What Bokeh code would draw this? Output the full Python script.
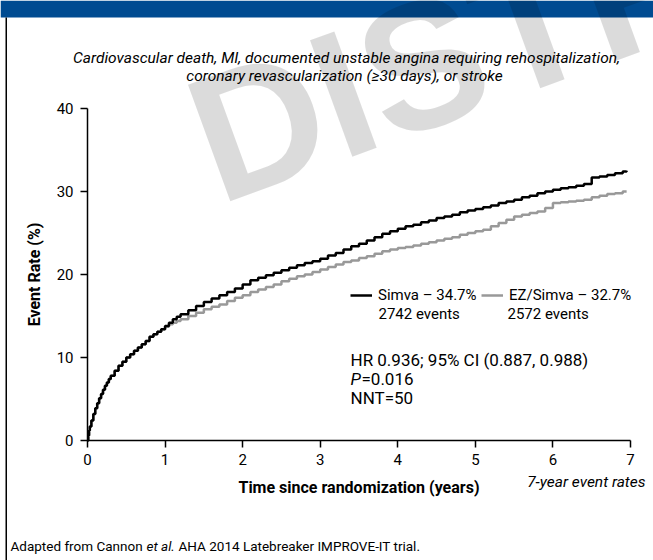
from bokeh.plotting import figure
from bokeh.models import Range1d, Label, Legend, LegendItem, FixedTicker, BoxAnnotation
from bokeh.embed import file_html
from bokeh.resources import INLINE

# ---------------- data ----------------
years = [0, 0.01, 0.02, 0.03, 0.05, 0.075, 0.1, 0.125, 0.15, 0.175, 0.2, 0.225,
         0.25, 0.275, 0.3, 0.35, 0.4, 0.45, 0.5, 0.55,
         0.6, 0.65, 0.7, 0.75, 0.8, 0.85, 0.9, 0.95, 1.0, 1.05, 1.1, 1.15,
         1.2, 1.3, 1.4, 1.5, 1.6, 1.7, 1.8, 1.9,
         2.0, 2.1, 2.2, 2.3, 2.4, 2.5, 2.6, 2.7, 2.8, 2.9,
         3.0, 3.1, 3.2, 3.3, 3.4, 3.5, 3.6, 3.7, 3.8, 3.9,
         4.0, 4.1, 4.2, 4.3, 4.4, 4.5, 4.6, 4.7, 4.8, 4.9,
         5.0, 5.1, 5.2, 5.3, 5.4, 5.5, 5.6, 5.7, 5.8, 5.9,
         6.0, 6.1, 6.2, 6.3, 6.4, 6.5, 6.6, 6.7, 6.8, 6.9, 6.95]

simva = [0, 0.6, 1.2, 1.7, 2.4, 3.2, 3.9, 4.5, 5.1, 5.6, 6.1, 6.6,
         7.0, 7.4, 7.8, 8.4, 9.0, 9.5, 10.0, 10.4,
         10.8, 11.2, 11.6, 12.0, 12.5, 12.8, 13.1, 13.4, 13.8, 14.2, 14.6, 14.9,
         15.2, 15.7, 16.2, 16.7, 17.1, 17.5, 17.9, 18.3,
         18.8, 19.3, 19.6, 19.9, 20.2, 20.5, 20.8, 21.1, 21.4, 21.6,
         21.9, 22.3, 22.6, 23.0, 23.4, 23.7, 24.1, 24.5, 24.9, 25.2,
         25.5, 25.8, 26.0, 26.3, 26.5, 26.8, 27.0, 27.2, 27.5, 27.7,
         27.9, 28.1, 28.3, 28.6, 28.8, 29.0, 29.3, 29.5, 29.8, 30.0,
         30.2, 30.4, 30.5, 30.7, 30.9, 31.7, 31.8, 32.0, 32.2, 32.4, 32.5]

ezsimva = [0, 0.6, 1.2, 1.7, 2.4, 3.2, 3.9, 4.5, 5.1, 5.6, 6.1, 6.6,
           7.0, 7.4, 7.8, 8.4, 9.0, 9.5, 10.0, 10.4,
           10.8, 11.2, 11.6, 12.0, 12.5, 12.8, 13.1, 13.4, 13.7, 14.0, 14.2, 14.4,
           14.6, 15.0, 15.4, 15.8, 16.1, 16.4, 16.8, 17.2,
           17.5, 17.9, 18.2, 18.5, 18.8, 19.2, 19.5, 19.8, 20.0, 20.3,
           20.6, 20.9, 21.2, 21.5, 21.7, 22.0, 22.2, 22.5, 22.8, 23.0,
           23.2, 23.3, 23.5, 23.7, 23.9, 24.1, 24.3, 24.5, 24.8, 25.0,
           25.2, 25.4, 25.8, 26.2, 26.6, 27.0, 27.2, 27.4, 27.6, 28.0,
           28.6, 28.7, 28.8, 28.9, 29.0, 29.3, 29.5, 29.7, 29.8, 30.0, 30.0]

x_ticks = [0, 1, 2, 3, 4, 5, 6, 7]
y_ticks = [0, 10, 20, 30, 40]

series_names = ["Simva \u2013 34.7%", "EZ/Simva \u2013 32.7%"]
series_events = ["2742 events", "2572 events"]
stats_lines = ["HR 0.936; 95% CI (0.887, 0.988)", "=0.016", "NNT=50"]

FONT = "Roboto"
W, H = 653, 560

# where the data box (0..7, 0..40) sits on the canvas, in pixels
PL, PR, PT, PB = 87, 630, 108, 440
XMIN, XMAX, YMIN, YMAX = 0, 7, 0, 40
sx = (PR - PL) / (XMAX - XMIN)
sy = (PB - PT) / (YMAX - YMIN)

# the frame covers the whole canvas; the axes are pinned at x=0 / y=0
p = figure(width=W, height=H, output_backend="svg", toolbar_location=None,
           x_range=Range1d(XMIN - PL / sx, XMAX + (W - PR) / sx),
           y_range=Range1d(YMIN - (H - PB) / sy, YMAX + PT / sy),
           min_border=0)
p.outline_line_color = None
p.xgrid.visible = False
p.ygrid.visible = False
p.background_fill_color = "white"
p.border_fill_color = "white"

xa, ya = p.xaxis[0], p.yaxis[0]
xa.fixed_location = 0
ya.fixed_location = 0
xa.bounds = (XMIN, XMAX)
ya.bounds = (YMIN, YMAX)
for ax in (xa, ya):
    ax.axis_line_color = "black"
    ax.axis_line_width = 1.5
    ax.major_tick_line_color = "black"
    ax.major_tick_line_width = 1.5
    ax.major_tick_in = 0
    ax.major_tick_out = 7
    ax.minor_tick_line_color = None
    ax.major_label_text_font = FONT
    ax.major_label_text_font_size = "15px"
    ax.major_label_text_color = "black"
    ax.axis_label_text_font = FONT
    ax.axis_label_text_font_style = "bold"
    ax.axis_label_text_font_size = "16px"
    ax.axis_label_text_color = "black"

xa.ticker = FixedTicker(ticks=x_ticks)
ya.ticker = FixedTicker(ticks=y_ticks)
xa.axis_label = "Time since randomization (years)"
ya.axis_label = "Event Rate (%)"
xa.major_label_standoff = 6
ya.major_label_standoff = 7
xa.axis_label_standoff = 10
ya.axis_label_standoff = 10


def box(left, right, top, bottom, color):
    p.add_layout(BoxAnnotation(left=left, right=right, top=top, bottom=bottom,
                               left_units="canvas", right_units="canvas",
                               top_units="canvas", bottom_units="canvas",
                               fill_color=color, fill_alpha=1.0, line_color=None,
                               level="underlay"))


# banner at the top and the rule down the left side
box(0, W, 0, 17, "#004b91")
box(5, 6.5, 17, H, "black")


def lab(px, py, text, size="15px", style="normal", align="left",
        color="black", font=FONT, angle=0, alpha=1.0, baseline="middle",
        level="annotation"):
    p.add_layout(Label(x=px, y=py, x_units="canvas", y_units="canvas",
                       text=text, text_font=font, angle=angle, angle_units="deg",
                       text_font_size=size, text_font_style=style,
                       text_align=align, text_baseline=baseline,
                       text_color=color, text_alpha=alpha, level=level))


# watermark
lab(197, 146, "DISTR", size="180px", style="bold", font="Liberation Sans",
    angle=20, alpha=0.14, baseline="alphabetic", level="underlay")

r_gray = p.step(years, ezsimva, mode="after", line_color="#999999", line_width=2.5)
r_black = p.step(years, simva, mode="after", line_color="black", line_width=2.5)

for item_label, rend, lx in ((series_names[0], r_black, 350), (series_names[1], r_gray, 481)):
    p.add_layout(Legend(items=[LegendItem(label=item_label, renderers=[rend])],
                        location=(lx, H - 295 - 10),
                        padding=0, margin=0, glyph_width=22, glyph_height=14,
                        label_standoff=6, border_line_color=None, background_fill_alpha=0,
                        label_text_font=FONT, label_text_font_size="15px",
                        label_height=20, label_text_color="black"))

# title lines
lab(346, 57, "Cardiovascular death, MI, documented unstable angina requiring rehospitalization,",
    size="15.5px", style="italic", align="center")
lab(344, 75, "coronary revascularization (\u226530 days), or stroke",
    size="15.5px", style="italic", align="center")

# legend second lines
lab(378, 313, series_events[0])
lab(507, 313, series_events[1])

# statistics
lab(350, 359, stats_lines[0], size="17px")
lab(350, 378, "P", size="17px", style="italic")
lab(361, 378, stats_lines[1], size="17px")
lab(350, 397, stats_lines[2], size="17px")

# note under x axis
lab(645, 481, "7-year event rates", size="15.5px", style="italic", align="right")

# footnote
lab(10, 545, "Adapted from Cannon", size="13.5px")
lab(146, 545, "et al.", size="13.5px", style="italic")
lab(178, 545, "AHA 2014 Latebreaker IMPROVE-IT trial.", size="13.5px")

open("out.html", "w").write(file_html(p, INLINE))
